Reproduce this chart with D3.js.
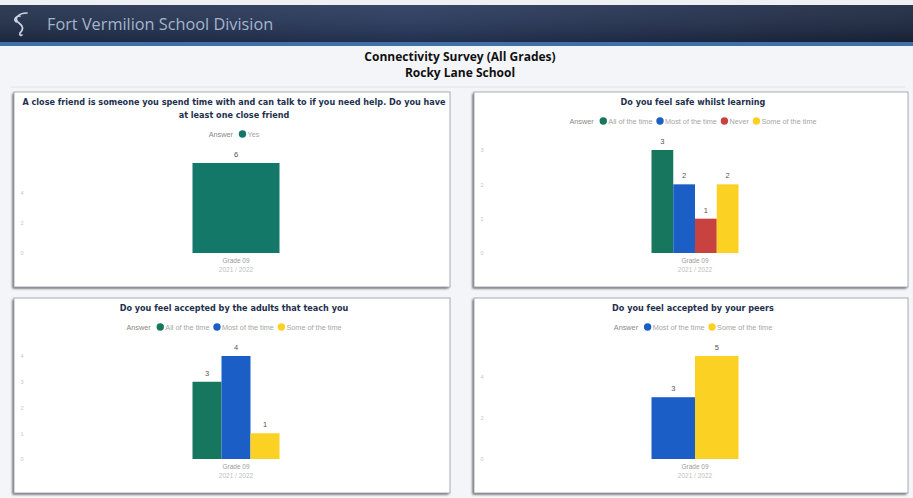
<!DOCTYPE html>
<html>
<head>
<meta charset="utf-8">
<script src="https://cdn.jsdelivr.net/npm/d3@7"></script>
<style>
  html, body { margin: 0; padding: 0; background: #f4f5f8; }
  svg { display: block; }
</style>
</head>
<body>
<svg id="page" width="913" height="498"></svg>
<script>
// ---- data ----
var brandName = "Fort Vermilion School Division";
var reportTitle = ["Connectivity Survey (All Grades)", "Rocky Lane School"];
var categories = ["Grade 09"];
var schoolYear = "2021 / 2022";
var legendTitle = "Answer";

var friendTitle = ["A close friend is someone you spend time with and can talk to if you need help. Do you have",
                   "at least one close friend"];
var friendAnswers = ["Yes"];
var friendValues = [6];
var friendTicks = [0, 2, 4];

var safeTitle = ["Do you feel safe whilst learning"];
var safeAnswers = ["All of the time", "Most of the time", "Never", "Some of the time"];
var safeValues = [3, 2, 1, 2];
var safeTicks = [0, 1, 2, 3];

var adultTitle = ["Do you feel accepted by the adults that teach you"];
var adultAnswers = ["All of the time", "Most of the time", "Some of the time"];
var adultValues = [3, 4, 1];
var adultTicks = [0, 1, 2, 3, 4];

var peerTitle = ["Do you feel accepted by your peers"];
var peerAnswers = ["Most of the time", "Some of the time"];
var peerValues = [3, 5];
var peerTicks = [0, 2, 4];

var answerColors = {
    "Yes": "#137868",
    "All of the time": "#17775e",
    "Most of the time": "#1b5fc6",
    "Never": "#c8423f",
    "Some of the time": "#fbd224"
};

var svg = d3.select("#page");
var defs = svg.append("defs");

// header band
var hg = defs.append("linearGradient").attr("id", "hdr").attr("x1", 0).attr("x2", 1).attr("y1", 0).attr("y2", 0);
hg.append("stop").attr("offset", "0%").attr("stop-color", "#1e2c47");
hg.append("stop").attr("offset", "45%").attr("stop-color", "#26375c");
hg.append("stop").attr("offset", "100%").attr("stop-color", "#19243c");
var hv = defs.append("linearGradient").attr("id", "hdrv").attr("x1", 0).attr("x2", 0).attr("y1", 0).attr("y2", 1);
hv.append("stop").attr("offset", "0%").attr("stop-color", "#ffffff").attr("stop-opacity", 0.08);
hv.append("stop").attr("offset", "100%").attr("stop-color", "#000000").attr("stop-opacity", 0.15);

var sh = defs.append("filter").attr("id", "shadow").attr("x", "-5%").attr("y", "-5%").attr("width", "110%").attr("height", "115%");
sh.append("feGaussianBlur").attr("stdDeviation", 1.2);

svg.append("rect").attr("x", 0).attr("y", 0).attr("width", 913).attr("height", 5).attr("fill", "#eef0f4");
svg.append("rect").attr("x", 0).attr("y", 5).attr("width", 913).attr("height", 38).attr("fill", "url(#hdr)");
svg.append("rect").attr("x", 0).attr("y", 5).attr("width", 913).attr("height", 38).attr("fill", "url(#hdrv)");
svg.append("rect").attr("x", 0).attr("y", 42).attr("width", 913).attr("height", 4).attr("fill", "#3f70a8");

// logo swirl
svg.append("path")
    .attr("d", "M27,13 C18,13 13,19 19,23 C23,26 24,29 20,33 M20,33 C19,35 21,36 22,35 M17,22 C13,21 15,16 20,16")
    .attr("fill", "none").attr("stroke", "#c9d3e2").attr("stroke-width", 1.7).attr("stroke-linecap", "round");

svg.append("text").attr("x", 47).attr("y", 30)
    .attr("font-family", "Open Sans, sans-serif").attr("font-size", 16.3)
    .attr("fill", "#a5b4cb").text(brandName);

svg.selectAll(".rtitle").data(reportTitle).enter().append("text")
    .attr("class", "rtitle")
    .attr("x", 460).attr("y", function(d, i) { return 61 + i * 16; })
    .attr("text-anchor", "middle")
    .attr("font-family", "Open Sans, sans-serif").attr("font-weight", "bold").attr("font-size", 12)
    .attr("fill", "#111").text(function(d) { return d; });

svg.append("line").attr("x1", 10).attr("x2", 905).attr("y1", 87).attr("y2", 87)
    .attr("stroke", "#e2e4ea").attr("stroke-width", 1);

var labelFont = "Liberation Sans, Arial, sans-serif";

function drawPanel(px, py, pw, ph, title, answers, values, ticks, titleDy) {
    var g = svg.append("g").attr("transform", "translate(" + px + "," + py + ")");

    g.append("rect").attr("x", -1.5).attr("y", 1.5).attr("width", pw).attr("height", ph)
        .attr("fill", "#54575e").attr("filter", "url(#shadow)");
    g.append("rect").attr("x", 0).attr("y", 0).attr("width", pw).attr("height", ph)
        .attr("fill", "#ffffff").attr("stroke", "#a9acb4").attr("stroke-width", 1);

    g.selectAll(".ptitle").data(title).enter().append("text")
        .attr("class", "ptitle")
        .attr("x", pw / 2 + 2).attr("y", function(d, i) { return 13 + i * 13; })
        .attr("text-anchor", "middle")
        .attr("font-family", "DejaVu Sans, sans-serif").attr("font-weight", "bold")
        .attr("font-size", 8.1).attr("fill", "#23304d")
        .text(function(d) { return d; });

    // legend
    var legY = 29 + titleDy;
    var leg = g.append("g").attr("font-family", labelFont).attr("font-size", 7.3);
    var cx = 0;
    var t = leg.append("text").attr("x", 0).attr("y", legY + 2.5).attr("fill", "#8a8a8a").text(legendTitle);
    cx = t.node().getComputedTextLength() + 6;
    answers.forEach(function(a) {
        leg.append("circle").attr("cx", cx + 3.5).attr("cy", legY).attr("r", 3.7).attr("fill", answerColors[a]);
        var lt = leg.append("text").attr("x", cx + 8.5).attr("y", legY + 2.5).attr("fill", "#a6a6a6").text(a);
        cx += 8.5 + lt.node().getComputedTextLength() + 4;
    });
    leg.attr("transform", "translate(" + (pw / 2 + 4 - cx / 2) + ",0)");

    // plot
    var bottom = 161;
    var top = 58 + titleDy;
    var center = pw / 2 + 4;
    var x = d3.scaleBand().domain(categories).range([center - 43.5, center + 43.5]).padding(0);
    var xs = d3.scaleBand().domain(answers).range([0, x.bandwidth()]).padding(0);
    var y = d3.scaleLinear().domain([0, d3.max(values)]).range([bottom, top]);

    var yAxis = g.append("g").attr("transform", "translate(8,0)")
        .call(d3.axisLeft(y).tickValues(ticks).tickSize(0).tickPadding(0).tickFormat(d3.format("d")));
    yAxis.select(".domain").remove();
    yAxis.selectAll("text").attr("font-size", 5.5).attr("fill", "#c4c4c4").attr("text-anchor", "middle")
        .attr("font-family", labelFont);

    var rows = answers.map(function(a, i) { return { cat: categories[0], answer: a, value: values[i] }; });

    var bars = g.append("g");
    bars.selectAll("rect").data(rows).enter().append("rect")
        .attr("x", function(d) { return x(d.cat) + xs(d.answer); })
        .attr("y", function(d) { return y(d.value); })
        .attr("width", xs.bandwidth())
        .attr("height", function(d) { return bottom - y(d.value); })
        .attr("fill", function(d) { return answerColors[d.answer]; });
    bars.selectAll("text").data(rows).enter().append("text")
        .attr("x", function(d) { return x(d.cat) + xs(d.answer) + xs.bandwidth() / 2; })
        .attr("y", function(d) { return y(d.value) - 6; })
        .attr("text-anchor", "middle")
        .attr("font-family", labelFont).attr("font-size", 7.5)
        .attr("fill", "#555").text(function(d) { return d.value; });

    var xAxis = g.append("g").attr("transform", "translate(0," + bottom + ")")
        .call(d3.axisBottom(x).tickSize(0).tickPadding(5));
    xAxis.select(".domain").remove();
    xAxis.selectAll("text").attr("font-size", 6.5).attr("fill", "#9a9a9a")
        .attr("font-family", labelFont);
    xAxis.selectAll(".tick").append("text")
        .attr("y", 14).attr("dy", "0.71em").attr("font-size", 6.5).attr("fill", "#c0c0c0")
        .attr("font-family", labelFont).attr("text-anchor", "middle")
        .text(schoolYear);
    xAxis.selectAll(".tick text").attr("text-anchor", "middle");
}

drawPanel(14, 92, 436, 195, friendTitle, friendAnswers, friendValues, friendTicks, 13);
drawPanel(474, 92, 434, 195, safeTitle, safeAnswers, safeValues, safeTicks, 0);
drawPanel(14, 298, 436, 195, adultTitle, adultAnswers, adultValues, adultTicks, 0);
drawPanel(474, 298, 434, 195, peerTitle, peerAnswers, peerValues, peerTicks, 0);
</script>
</body>
</html>
